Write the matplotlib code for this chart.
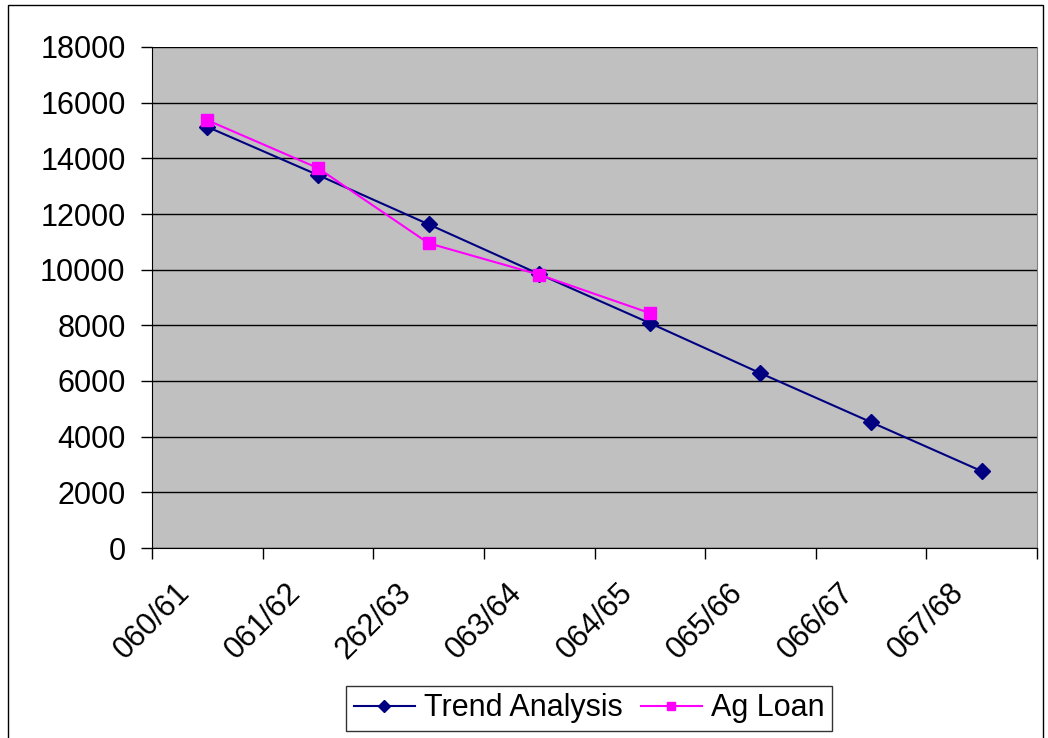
import matplotlib.pyplot as plt
import matplotlib.transforms as mtransforms
from matplotlib.patches import Rectangle
import numpy as np

plt.rcParams['font.family'] = ['Liberation Sans', 'DejaVu Sans']

years = ['060/61', '061/62', '262/63', '063/64', '064/65', '065/66', '066/67', '067/68']
trend = [15130, 13400, 11630, 9840, 8080, 6280, 4520, 2760]
ag_loan = [15370, 13650, 10950, 9820, 8440]

fig = plt.figure(figsize=(10.48, 7.38), dpi=100)
ax = fig.add_axes([152 / 1048, 1 - 548 / 738, 885 / 1048, 501 / 738])
ax.set_facecolor('#C0C0C0')

x = np.arange(len(years))
ax.plot(x, trend, color='#000080', marker='D', markersize=8, linewidth=1.5,
        label='Trend Analysis', zorder=3)
ax.plot(x[:len(ag_loan)], ag_loan, color='#FF00FF', marker='s', markersize=8,
        linewidth=1.5, label='Ag Loan', zorder=4)

ax.set_xlim(-0.5, len(years) - 0.5)
ax.set_ylim(0, 18000)
ax.set_yticks(np.arange(0, 18001, 2000))
ax.yaxis.grid(True, color='black', linewidth=1)
ax.set_axisbelow(True)

ax.set_xticks(x)
ax.set_xticklabels(years, rotation=45, ha='right', va='center', rotation_mode='anchor')
ax.set_xticks(np.arange(-0.5, len(years)), minor=True)
ax.tick_params(axis='x', which='major', length=0, labelsize=22, pad=29)
ax.tick_params(axis='x', which='minor', length=8, width=1, direction='out')
ax.tick_params(axis='y', length=8, width=1, labelsize=22, pad=11)
off = mtransforms.ScaledTranslation(-0.22, 0, fig.dpi_scale_trans)
for lab in ax.get_xticklabels():
    lab.set_transform(lab.get_transform() + off)

ax.spines['top'].set_visible(False)
ax.spines['right'].set_color('#808080')
ax.spines['left'].set_color('black')
ax.spines['bottom'].set_color('black')

leg = ax.legend(loc='upper center', bbox_to_anchor=(0.494, -0.275), ncol=2,
                fontsize=22, frameon=True, fancybox=False, edgecolor='black',
                handlelength=2.0, handletextpad=0.3, columnspacing=0.6,
                borderpad=0.25, borderaxespad=0, markerscale=0.75)
leg.get_frame().set_linewidth(1)

fig.patches.append(Rectangle((8 / 1048, -0.01), 1035 / 1048, 1 - 5 / 738 + 0.01,
                             transform=fig.transFigure, fill=False,
                             edgecolor='black', linewidth=1))

fig.savefig('out.png', dpi=100)
